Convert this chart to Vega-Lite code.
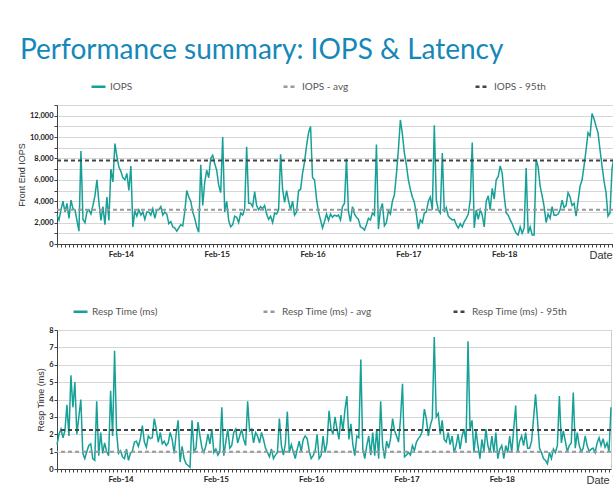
{
"$schema": "https://vega.github.io/schema/vega-lite/v6.json",
"background": "white",
"padding": {"left": 16, "top": 36, "right": 0, "bottom": 0},
"title": {"text": "Performance summary: IOPS & Latency", "anchor": "start", "font": "Lato", "fontSize": 28, "fontWeight": "normal", "color": "#1588b9", "offset": 13, "dx": 3},
"spacing": 41,
"columns": 1,
"datasets": {"perf": [
{"t":"2024-02-13T08:00","IOPS":2700,"RT":1.4},{"t":"2024-02-13T08:30","IOPS":2250,"RT":2.0},{"t":"2024-02-13T09:00","IOPS":3200,"RT":2.3},{"t":"2024-02-13T09:30","IOPS":4000,"RT":1.8},{"t":"2024-02-13T10:00","IOPS":3000,"RT":2.2},{"t":"2024-02-13T10:30","IOPS":3800,"RT":3.7},{"t":"2024-02-13T11:00","IOPS":2400,"RT":1.9},{"t":"2024-02-13T11:30","IOPS":4100,"RT":5.4},{"t":"2024-02-13T12:00","IOPS":3300,"RT":3.55},{"t":"2024-02-13T12:30","IOPS":3200,"RT":5.0},{"t":"2024-02-13T13:00","IOPS":2200,"RT":2.0},{"t":"2024-02-13T13:30","IOPS":1200,"RT":3.0},{"t":"2024-02-13T14:00","IOPS":8700,"RT":4.0},{"t":"2024-02-13T14:30","IOPS":2300,"RT":0.9},{"t":"2024-02-13T15:00","IOPS":2000,"RT":0.6},{"t":"2024-02-13T15:30","IOPS":3000,"RT":1.0},{"t":"2024-02-13T16:00","IOPS":3200,"RT":1.35},{"t":"2024-02-13T16:30","IOPS":2800,"RT":1.45},{"t":"2024-02-13T17:00","IOPS":3600,"RT":0.6},{"t":"2024-02-13T17:30","IOPS":4500,"RT":0.5},{"t":"2024-02-13T18:00","IOPS":6000,"RT":3.9},{"t":"2024-02-13T18:30","IOPS":3900,"RT":0.77},{"t":"2024-02-13T19:00","IOPS":2200,"RT":2.1},{"t":"2024-02-13T19:30","IOPS":3500,"RT":0.9},{"t":"2024-02-13T20:00","IOPS":1800,"RT":1.5},{"t":"2024-02-13T20:30","IOPS":4400,"RT":1.0},{"t":"2024-02-13T21:00","IOPS":2200,"RT":0.77},{"t":"2024-02-13T21:30","IOPS":7000,"RT":4.5},{"t":"2024-02-13T22:00","IOPS":5800,"RT":1.9},{"t":"2024-02-13T22:30","IOPS":9400,"RT":6.8},{"t":"2024-02-13T23:00","IOPS":8200,"RT":2.1},{"t":"2024-02-13T23:30","IOPS":7200,"RT":0.9},
{"t":"2024-02-14T00:00","IOPS":6800,"RT":1.05},{"t":"2024-02-14T00:30","IOPS":6200,"RT":0.7},{"t":"2024-02-14T01:00","IOPS":6000,"RT":0.6},{"t":"2024-02-14T01:30","IOPS":6600,"RT":1.15},{"t":"2024-02-14T02:00","IOPS":5000,"RT":0.5},{"t":"2024-02-14T02:30","IOPS":7300,"RT":0.9},{"t":"2024-02-14T03:00","IOPS":1600,"RT":1.05},{"t":"2024-02-14T03:30","IOPS":3100,"RT":1.55},{"t":"2024-02-14T04:00","IOPS":2600,"RT":1.6},{"t":"2024-02-14T04:30","IOPS":3200,"RT":1.3},{"t":"2024-02-14T05:00","IOPS":2700,"RT":1.75},{"t":"2024-02-14T05:30","IOPS":3000,"RT":2.5},{"t":"2024-02-14T06:00","IOPS":2300,"RT":1.55},{"t":"2024-02-14T06:30","IOPS":3000,"RT":1.25},{"t":"2024-02-14T07:00","IOPS":3000,"RT":1.9},{"t":"2024-02-14T07:30","IOPS":2700,"RT":1.75},{"t":"2024-02-14T08:00","IOPS":3300,"RT":1.8},{"t":"2024-02-14T08:30","IOPS":2400,"RT":2.9},{"t":"2024-02-14T09:00","IOPS":3200,"RT":2.3},{"t":"2024-02-14T09:30","IOPS":3200,"RT":1.55},{"t":"2024-02-14T10:00","IOPS":3500,"RT":2.1},{"t":"2024-02-14T10:30","IOPS":2700,"RT":1.45},{"t":"2024-02-14T11:00","IOPS":3000,"RT":1.6},{"t":"2024-02-14T11:30","IOPS":2800,"RT":1.35},{"t":"2024-02-14T12:00","IOPS":1900,"RT":1.5},{"t":"2024-02-14T12:30","IOPS":2100,"RT":2.1},{"t":"2024-02-14T13:00","IOPS":1600,"RT":1.7},{"t":"2024-02-14T13:30","IOPS":1500,"RT":0.9},{"t":"2024-02-14T14:00","IOPS":1200,"RT":2.0},{"t":"2024-02-14T14:30","IOPS":1500,"RT":2.8},{"t":"2024-02-14T15:00","IOPS":1800,"RT":0.4},{"t":"2024-02-14T15:30","IOPS":1700,"RT":1.3},{"t":"2024-02-14T16:00","IOPS":3000,"RT":0.6},{"t":"2024-02-14T16:30","IOPS":5000,"RT":0.3},{"t":"2024-02-14T17:00","IOPS":4400,"RT":0.2},{"t":"2024-02-14T17:30","IOPS":4000,"RT":0.1},{"t":"2024-02-14T18:00","IOPS":3000,"RT":2.8},{"t":"2024-02-14T18:30","IOPS":2400,"RT":1.0},{"t":"2024-02-14T19:00","IOPS":1600,"RT":1.2},{"t":"2024-02-14T19:30","IOPS":1100,"RT":2.7},{"t":"2024-02-14T20:00","IOPS":7400,"RT":1.9},{"t":"2024-02-14T20:30","IOPS":3600,"RT":1.2},{"t":"2024-02-14T21:00","IOPS":5800,"RT":0.95},{"t":"2024-02-14T21:30","IOPS":6900,"RT":1.35},{"t":"2024-02-14T22:00","IOPS":6200,"RT":2.0},{"t":"2024-02-14T22:30","IOPS":8000,"RT":1.45},{"t":"2024-02-14T23:00","IOPS":8300,"RT":2.3},{"t":"2024-02-14T23:30","IOPS":7500,"RT":0.95},
{"t":"2024-02-15T00:00","IOPS":6900,"RT":1.15},{"t":"2024-02-15T00:30","IOPS":5500,"RT":0.8},{"t":"2024-02-15T01:00","IOPS":4800,"RT":1.0},{"t":"2024-02-15T01:30","IOPS":10000,"RT":3.55},{"t":"2024-02-15T02:00","IOPS":3000,"RT":0.77},{"t":"2024-02-15T02:30","IOPS":4000,"RT":1.55},{"t":"2024-02-15T03:00","IOPS":2200,"RT":2.3},{"t":"2024-02-15T03:30","IOPS":1600,"RT":1.2},{"t":"2024-02-15T04:00","IOPS":1800,"RT":1.35},{"t":"2024-02-15T04:30","IOPS":2600,"RT":2.1},{"t":"2024-02-15T05:00","IOPS":2500,"RT":2.3},{"t":"2024-02-15T05:30","IOPS":2000,"RT":1.5},{"t":"2024-02-15T06:00","IOPS":2900,"RT":1.9},{"t":"2024-02-15T06:30","IOPS":2700,"RT":2.3},{"t":"2024-02-15T07:00","IOPS":3300,"RT":1.7},{"t":"2024-02-15T07:30","IOPS":9100,"RT":1.35},{"t":"2024-02-15T08:00","IOPS":3800,"RT":3.9},{"t":"2024-02-15T08:30","IOPS":3800,"RT":2.2},{"t":"2024-02-15T09:00","IOPS":3500,"RT":2.3},{"t":"2024-02-15T09:30","IOPS":4900,"RT":1.5},{"t":"2024-02-15T10:00","IOPS":3600,"RT":2.1},{"t":"2024-02-15T10:30","IOPS":3200,"RT":1.9},{"t":"2024-02-15T11:00","IOPS":3500,"RT":1.5},{"t":"2024-02-15T11:30","IOPS":3300,"RT":2.1},{"t":"2024-02-15T12:00","IOPS":3600,"RT":1.7},{"t":"2024-02-15T12:30","IOPS":2800,"RT":1.2},{"t":"2024-02-15T13:00","IOPS":2300,"RT":0.95},{"t":"2024-02-15T13:30","IOPS":2600,"RT":0.7},{"t":"2024-02-15T14:00","IOPS":2000,"RT":1.15},{"t":"2024-02-15T14:30","IOPS":2900,"RT":0.6},{"t":"2024-02-15T15:00","IOPS":2800,"RT":0.8},{"t":"2024-02-15T15:30","IOPS":3200,"RT":0.95},{"t":"2024-02-15T16:00","IOPS":8400,"RT":2.9},{"t":"2024-02-15T16:30","IOPS":5100,"RT":1.35},{"t":"2024-02-15T17:00","IOPS":3900,"RT":0.8},{"t":"2024-02-15T17:30","IOPS":5000,"RT":1.45},{"t":"2024-02-15T18:00","IOPS":4000,"RT":3.3},{"t":"2024-02-15T18:30","IOPS":3200,"RT":0.95},{"t":"2024-02-15T19:00","IOPS":4000,"RT":1.4},{"t":"2024-02-15T19:30","IOPS":2700,"RT":1.0},{"t":"2024-02-15T20:00","IOPS":3000,"RT":0.6},{"t":"2024-02-15T20:30","IOPS":5000,"RT":1.15},{"t":"2024-02-15T21:00","IOPS":5100,"RT":1.6},{"t":"2024-02-15T21:30","IOPS":6600,"RT":1.0},{"t":"2024-02-15T22:00","IOPS":7700,"RT":1.7},{"t":"2024-02-15T22:30","IOPS":9200,"RT":1.9},{"t":"2024-02-15T23:00","IOPS":10400,"RT":1.75},{"t":"2024-02-15T23:30","IOPS":11000,"RT":1.05},
{"t":"2024-02-16T00:00","IOPS":6200,"RT":0.6},{"t":"2024-02-16T00:30","IOPS":6000,"RT":0.77},{"t":"2024-02-16T01:00","IOPS":4200,"RT":1.05},{"t":"2024-02-16T01:30","IOPS":3000,"RT":2.0},{"t":"2024-02-16T02:00","IOPS":2250,"RT":0.6},{"t":"2024-02-16T02:30","IOPS":1500,"RT":0.77},{"t":"2024-02-16T03:00","IOPS":2100,"RT":1.9},{"t":"2024-02-16T03:30","IOPS":2800,"RT":0.95},{"t":"2024-02-16T04:00","IOPS":2200,"RT":1.5},{"t":"2024-02-16T04:30","IOPS":2800,"RT":3.35},{"t":"2024-02-16T05:00","IOPS":2500,"RT":2.3},{"t":"2024-02-16T05:30","IOPS":2700,"RT":2.0},{"t":"2024-02-16T06:00","IOPS":2600,"RT":3.0},{"t":"2024-02-16T06:30","IOPS":2700,"RT":2.3},{"t":"2024-02-16T07:00","IOPS":2250,"RT":1.7},{"t":"2024-02-16T07:30","IOPS":3500,"RT":3.1},{"t":"2024-02-16T08:00","IOPS":3800,"RT":2.2},{"t":"2024-02-16T08:30","IOPS":8000,"RT":3.4},{"t":"2024-02-16T09:00","IOPS":3000,"RT":4.2},{"t":"2024-02-16T09:30","IOPS":2100,"RT":1.7},{"t":"2024-02-16T10:00","IOPS":3500,"RT":2.6},{"t":"2024-02-16T10:30","IOPS":2800,"RT":1.4},{"t":"2024-02-16T11:00","IOPS":2500,"RT":0.77},{"t":"2024-02-16T11:30","IOPS":2300,"RT":1.9},{"t":"2024-02-16T12:00","IOPS":1600,"RT":1.8},{"t":"2024-02-16T12:30","IOPS":1500,"RT":6.3},{"t":"2024-02-16T13:00","IOPS":1300,"RT":1.15},{"t":"2024-02-16T13:30","IOPS":1800,"RT":0.6},{"t":"2024-02-16T14:00","IOPS":2400,"RT":1.35},{"t":"2024-02-16T14:30","IOPS":2250,"RT":1.9},{"t":"2024-02-16T15:00","IOPS":2900,"RT":0.8},{"t":"2024-02-16T15:30","IOPS":2700,"RT":2.1},{"t":"2024-02-16T16:00","IOPS":9300,"RT":0.77},{"t":"2024-02-16T16:30","IOPS":1400,"RT":2.3},{"t":"2024-02-16T17:00","IOPS":3200,"RT":0.6},{"t":"2024-02-16T17:30","IOPS":3800,"RT":3.9},{"t":"2024-02-16T18:00","IOPS":1700,"RT":1.35},{"t":"2024-02-16T18:30","IOPS":2000,"RT":0.6},{"t":"2024-02-16T19:00","IOPS":3100,"RT":1.6},{"t":"2024-02-16T19:30","IOPS":2800,"RT":1.2},{"t":"2024-02-16T20:00","IOPS":4000,"RT":1.75},{"t":"2024-02-16T20:30","IOPS":4600,"RT":2.9},{"t":"2024-02-16T21:00","IOPS":6500,"RT":2.2},{"t":"2024-02-16T21:30","IOPS":8800,"RT":1.9},{"t":"2024-02-16T22:00","IOPS":11600,"RT":1.55},{"t":"2024-02-16T22:30","IOPS":10300,"RT":2.9},{"t":"2024-02-16T23:00","IOPS":8500,"RT":4.9},{"t":"2024-02-16T23:30","IOPS":7400,"RT":0.7},
{"t":"2024-02-17T00:00","IOPS":6000,"RT":0.8},{"t":"2024-02-17T00:30","IOPS":5100,"RT":0.95},{"t":"2024-02-17T01:00","IOPS":4400,"RT":0.8},{"t":"2024-02-17T01:30","IOPS":3900,"RT":1.35},{"t":"2024-02-17T02:00","IOPS":2800,"RT":1.05},{"t":"2024-02-17T02:30","IOPS":1400,"RT":1.55},{"t":"2024-02-17T03:00","IOPS":2250,"RT":1.75},{"t":"2024-02-17T03:30","IOPS":2000,"RT":1.9},{"t":"2024-02-17T04:00","IOPS":2900,"RT":2.2},{"t":"2024-02-17T04:30","IOPS":3000,"RT":3.45},{"t":"2024-02-17T05:00","IOPS":4000,"RT":2.9},{"t":"2024-02-17T05:30","IOPS":4400,"RT":1.9},{"t":"2024-02-17T06:00","IOPS":3200,"RT":2.5},{"t":"2024-02-17T06:30","IOPS":11100,"RT":2.9},{"t":"2024-02-17T07:00","IOPS":4100,"RT":7.6},{"t":"2024-02-17T07:30","IOPS":3200,"RT":3.0},{"t":"2024-02-17T08:00","IOPS":2900,"RT":3.2},{"t":"2024-02-17T08:30","IOPS":8500,"RT":2.0},{"t":"2024-02-17T09:00","IOPS":3000,"RT":2.8},{"t":"2024-02-17T09:30","IOPS":3400,"RT":1.7},{"t":"2024-02-17T10:00","IOPS":2600,"RT":1.55},{"t":"2024-02-17T10:30","IOPS":2400,"RT":2.1},{"t":"2024-02-17T11:00","IOPS":2250,"RT":1.4},{"t":"2024-02-17T11:30","IOPS":2300,"RT":1.9},{"t":"2024-02-17T12:00","IOPS":1800,"RT":0.95},{"t":"2024-02-17T12:30","IOPS":1500,"RT":1.35},{"t":"2024-02-17T13:00","IOPS":1900,"RT":2.0},{"t":"2024-02-17T13:30","IOPS":1600,"RT":1.15},{"t":"2024-02-17T14:00","IOPS":2100,"RT":1.9},{"t":"2024-02-17T14:30","IOPS":2400,"RT":2.3},{"t":"2024-02-17T15:00","IOPS":2800,"RT":1.5},{"t":"2024-02-17T15:30","IOPS":4100,"RT":7.35},{"t":"2024-02-17T16:00","IOPS":9500,"RT":2.3},{"t":"2024-02-17T16:30","IOPS":1500,"RT":2.8},{"t":"2024-02-17T17:00","IOPS":3200,"RT":0.95},{"t":"2024-02-17T17:30","IOPS":2300,"RT":2.2},{"t":"2024-02-17T18:00","IOPS":3200,"RT":1.35},{"t":"2024-02-17T18:30","IOPS":2700,"RT":0.6},{"t":"2024-02-17T19:00","IOPS":1600,"RT":1.7},{"t":"2024-02-17T19:30","IOPS":4000,"RT":1.0},{"t":"2024-02-17T20:00","IOPS":4500,"RT":2.3},{"t":"2024-02-17T20:30","IOPS":3200,"RT":1.35},{"t":"2024-02-17T21:00","IOPS":5200,"RT":0.95},{"t":"2024-02-17T21:30","IOPS":4200,"RT":1.9},{"t":"2024-02-17T22:00","IOPS":6000,"RT":0.95},{"t":"2024-02-17T22:30","IOPS":6300,"RT":2.1},{"t":"2024-02-17T23:00","IOPS":7300,"RT":0.6},{"t":"2024-02-17T23:30","IOPS":6600,"RT":1.15},
{"t":"2024-02-18T00:00","IOPS":4500,"RT":1.35},{"t":"2024-02-18T00:30","IOPS":2900,"RT":0.6},{"t":"2024-02-18T01:00","IOPS":2700,"RT":1.35},{"t":"2024-02-18T01:30","IOPS":2250,"RT":0.95},{"t":"2024-02-18T02:00","IOPS":1900,"RT":1.9},{"t":"2024-02-18T02:30","IOPS":1400,"RT":0.95},{"t":"2024-02-18T03:00","IOPS":1000,"RT":2.3},{"t":"2024-02-18T03:30","IOPS":850,"RT":3.65},{"t":"2024-02-18T04:00","IOPS":1600,"RT":0.95},{"t":"2024-02-18T04:30","IOPS":1000,"RT":1.6},{"t":"2024-02-18T05:00","IOPS":1500,"RT":1.9},{"t":"2024-02-18T05:30","IOPS":7100,"RT":1.35},{"t":"2024-02-18T06:00","IOPS":1000,"RT":2.1},{"t":"2024-02-18T06:30","IOPS":1600,"RT":1.2},{"t":"2024-02-18T07:00","IOPS":850,"RT":1.2},{"t":"2024-02-18T07:30","IOPS":850,"RT":1.6},{"t":"2024-02-18T08:00","IOPS":7900,"RT":2.9},{"t":"2024-02-18T08:30","IOPS":7200,"RT":4.3},{"t":"2024-02-18T09:00","IOPS":5400,"RT":2.8},{"t":"2024-02-18T09:30","IOPS":4500,"RT":1.2},{"t":"2024-02-18T10:00","IOPS":3500,"RT":0.95},{"t":"2024-02-18T10:30","IOPS":2000,"RT":0.6},{"t":"2024-02-18T11:00","IOPS":2800,"RT":0.5},{"t":"2024-02-18T11:30","IOPS":2400,"RT":0.3},{"t":"2024-02-18T12:00","IOPS":3500,"RT":0.95},{"t":"2024-02-18T12:30","IOPS":2700,"RT":0.6},{"t":"2024-02-18T13:00","IOPS":2700,"RT":1.15},{"t":"2024-02-18T13:30","IOPS":2800,"RT":0.95},{"t":"2024-02-18T14:00","IOPS":3200,"RT":1.35},{"t":"2024-02-18T14:30","IOPS":4100,"RT":4.2},{"t":"2024-02-18T15:00","IOPS":3400,"RT":1.5},{"t":"2024-02-18T15:30","IOPS":3600,"RT":2.2},{"t":"2024-02-18T16:00","IOPS":4800,"RT":1.6},{"t":"2024-02-18T16:30","IOPS":4400,"RT":1.0},{"t":"2024-02-18T17:00","IOPS":3600,"RT":1.35},{"t":"2024-02-18T17:30","IOPS":3800,"RT":1.5},{"t":"2024-02-18T18:00","IOPS":2600,"RT":4.4},{"t":"2024-02-18T18:30","IOPS":4000,"RT":1.2},{"t":"2024-02-18T19:00","IOPS":5400,"RT":2.1},{"t":"2024-02-18T19:30","IOPS":6000,"RT":1.35},{"t":"2024-02-18T20:00","IOPS":7300,"RT":1.0},{"t":"2024-02-18T20:30","IOPS":8800,"RT":1.2},{"t":"2024-02-18T21:00","IOPS":10400,"RT":1.9},{"t":"2024-02-18T21:30","IOPS":10100,"RT":1.35},{"t":"2024-02-18T22:00","IOPS":12200,"RT":1.0},{"t":"2024-02-18T22:30","IOPS":11700,"RT":1.15},{"t":"2024-02-18T23:00","IOPS":11000,"RT":1.2},{"t":"2024-02-18T23:30","IOPS":10400,"RT":0.95},
{"t":"2024-02-19T00:00","IOPS":8800,"RT":1.5},{"t":"2024-02-19T00:30","IOPS":7300,"RT":1.8},{"t":"2024-02-19T01:00","IOPS":5900,"RT":1.35},{"t":"2024-02-19T01:30","IOPS":4800,"RT":1.75},{"t":"2024-02-19T02:00","IOPS":2600,"RT":1.25},{"t":"2024-02-19T02:30","IOPS":2900,"RT":1.5},{"t":"2024-02-19T03:00","IOPS":7000,"RT":1.0},{"t":"2024-02-19T03:30","IOPS":8200,"RT":3.55}
]},
"concat": [
{
"width": 557, "height": 139,
"encoding": {
  "y": {"field": "v", "type": "quantitative", "scale": {"domain": [0, 13000], "nice": false},
   "axis": {"title": "Front End IOPS", "values": [0,1000,2000,3000,4000,5000,6000,7000,8000,9000,10000,11000,12000,13000], "labelExpr": "datum.value % 2000 == 0 && datum.value <= 12000 ? format(datum.value, ',') : ''", "labelOverlap": false, "tickSize": 3, "labelFont": "Lato", "labelFontWeight": "bold", "labelFontSize": 7.5, "labelColor": "#222222", "labelPadding": 1, "titleFont": "Liberation Sans", "titleFontSize": 9, "titleFontWeight": "normal", "titleColor": "#333333", "titlePadding": 3}},
  "color": {"field": "s", "type": "nominal", "scale": {"domain": ["IOPS", "IOPS - avg", "IOPS - 95th"], "range": ["#17a097", "#999999", "#444444"]},
   "legend": {"title": null, "orient": "none", "legendX": 33, "legendY": -27, "direction": "horizontal", "gridAlign": "all", "columnPadding": 116, "symbolType": "stroke", "symbolSize": 196, "symbolStrokeWidth": 2.5, "labelOffset": 3, "labelFont": "Lato", "labelFontSize": 10, "labelColor": "#555555"}},
  "strokeDash": {"field": "s", "type": "nominal", "scale": {"domain": ["IOPS", "IOPS - avg", "IOPS - 95th"], "range": [[1, 0], [4, 3], [4, 3]]}}
},
"layer": [
{"data": {"name": "perf"},
 "transform": [{"fold": ["IOPS"], "as": ["s", "v"]}],
 "mark": {"type": "line", "strokeWidth": 1.5},
 "encoding": {
  "x": {"field": "t", "type": "temporal",
   "axis": {"title": "Date Time", "titleAnchor": "end", "titleAlign": "center", "titleBaseline": "top", "titlePadding": -9, "titleFont": "Liberation Sans", "titleFontSize": 11, "titleFontWeight": "normal", "titleColor": "#333333",
    "tickCount": 140, "labelExpr": "hours(datum.value) == 0 && date(datum.value) != 19 ? timeFormat(datum.value, '%b-%d') : ''", "labelOverlap": false,
    "tickSize": 3, "labelFont": "Lato", "labelFontWeight": "bold", "labelFontSize": 8, "labelColor": "#222222", "labelPadding": 3, "grid": false}}
 }},
{"data": {"values": [{"s": "IOPS - avg", "v": 3200}, {"s": "IOPS - 95th", "v": 7800}]},
 "mark": {"type": "rule", "strokeWidth": 2},
 "encoding": {}}
]
},
{
"width": 554, "height": 139,
"encoding": {
  "y": {"field": "v", "type": "quantitative", "scale": {"domain": [0, 8], "nice": false},
   "axis": {"title": "Resp Time (ms)", "values": [0,1,2,3,4,5,6,7,8], "labelOverlap": false, "tickSize": 3, "labelFont": "Lato", "labelFontWeight": "bold", "labelFontSize": 7.5, "labelColor": "#222222", "labelPadding": 1, "titleFont": "Liberation Sans", "titleFontSize": 9, "titleFontWeight": "normal", "titleColor": "#333333", "titlePadding": 3}},
  "color": {"field": "s", "type": "nominal", "scale": {"domain": ["Resp Time (ms)", "Resp Time (ms) - avg", "Resp Time (ms) - 95th"], "range": ["#17a097", "#999999", "#444444"]},
   "legend": {"title": null, "orient": "none", "legendX": 15, "legendY": -27, "direction": "horizontal", "gridAlign": "all", "columnPadding": 70, "symbolType": "stroke", "symbolSize": 196, "symbolStrokeWidth": 2.5, "labelOffset": 3, "labelFont": "Lato", "labelFontSize": 10, "labelColor": "#555555"}},
  "strokeDash": {"field": "s", "type": "nominal", "scale": {"domain": ["Resp Time (ms)", "Resp Time (ms) - avg", "Resp Time (ms) - 95th"], "range": [[1, 0], [4, 3], [4, 3]]}}
},
"layer": [
{"data": {"name": "perf"},
 "transform": [{"fold": ["RT"], "as": ["k", "v"]}, {"lookup": "k", "from": {"data": {"values": [{"k": "RT", "s": "Resp Time (ms)"}]}, "key": "k", "fields": ["s"]}}],
 "mark": {"type": "line", "strokeWidth": 1.5},
 "encoding": {
  "x": {"field": "t", "type": "temporal",
   "axis": {"title": "Date Time", "titleAnchor": "end", "titleAlign": "center", "titleBaseline": "top", "titlePadding": -9, "titleFont": "Liberation Sans", "titleFontSize": 11, "titleFontWeight": "normal", "titleColor": "#333333",
    "tickCount": 140, "labelExpr": "hours(datum.value) == 0 && date(datum.value) != 19 ? timeFormat(datum.value, '%b-%d') : ''", "labelOverlap": false,
    "tickSize": 3, "labelFont": "Lato", "labelFontWeight": "bold", "labelFontSize": 8, "labelColor": "#222222", "labelPadding": 3, "grid": false}}
 }},
{"data": {"values": [{"s": "Resp Time (ms) - avg", "v": 1.0}, {"s": "Resp Time (ms) - 95th", "v": 2.25}]},
 "mark": {"type": "rule", "strokeWidth": 2},
 "encoding": {}}
]
}
],
"resolve": {"scale": {"color": "independent", "strokeDash": "independent"}},
"config": {
 "view": {"stroke": "#cccccc"},
 "axis": {"gridColor": "#d6d6d6", "gridWidth": 1, "domainColor": "#444444", "tickColor": "#444444"}
}
}
